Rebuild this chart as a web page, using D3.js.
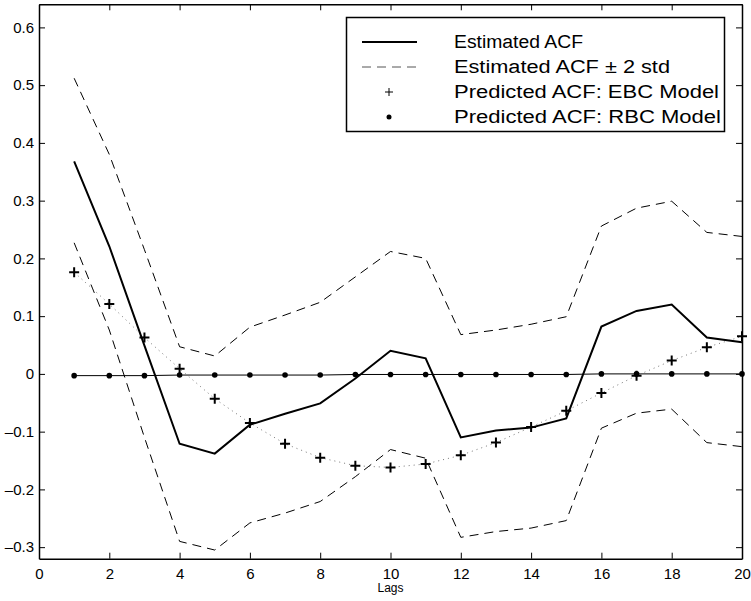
<!DOCTYPE html>
<html>
<head>
<meta charset="utf-8">
<script src="https://cdn.jsdelivr.net/npm/d3@7"></script>
<style>
  body { margin: 0; background: #fff; }
  text { font-family: "Liberation Sans", Arial, Helvetica, sans-serif; }
</style>
</head>
<body>
<div id="chart"></div>
<script>
// lags 1..20
const lags = d3.range(1, 21);
const estAcf = [0.368, 0.221, 0.049, -0.121, -0.138, -0.088, -0.069, -0.051, -0.008, 0.040,
                0.027, -0.110, -0.098, -0.093, -0.077, 0.082, 0.109, 0.120, 0.063, 0.055];
const upperBand = [0.512, 0.380, 0.215, 0.047, 0.031, 0.081, 0.102, 0.124, 0.168, 0.212,
                   0.200, 0.068, 0.076, 0.086, 0.099, 0.256, 0.287, 0.299, 0.245, 0.238];
const lowerBand = [0.227, 0.076, -0.110, -0.290, -0.305, -0.258, -0.241, -0.221, -0.178, -0.131,
                   -0.146, -0.283, -0.273, -0.267, -0.254, -0.094, -0.068, -0.061, -0.119, -0.126];
const ebcAcf = [0.176, 0.121, 0.063, 0.009, -0.043, -0.085, -0.121, -0.145, -0.159, -0.162,
                -0.156, -0.141, -0.119, -0.092, -0.064, -0.033, -0.003, 0.023, 0.046, 0.065];
const rbcAcf = [-0.003, -0.003, -0.003, -0.002, -0.002, -0.002, -0.002, -0.002, -0.001, -0.001,
                -0.001, -0.001, -0.001, -0.001, -0.001, 0, 0, 0, 0, 0];
const xTicks = [0, 2, 4, 6, 8, 10, 12, 14, 16, 18, 20];
const yTicks = [-0.3, -0.2, -0.1, 0, 0.1, 0.2, 0.3, 0.4, 0.5, 0.6];
const legendLabels = ["Estimated ACF", "Estimated ACF \u00b1 2 std",
                      "Predicted ACF: EBC Model", "Predicted ACF: RBC Model"];
const legendWidths = [129, 216, 265, 267];

const width = 751, height = 601;
const x = d3.scaleLinear().domain([0, 20]).range([39, 742]);
const y = d3.scaleLinear().domain([-0.32, 0.64]).range([558.7, 4.3]);

const svg = d3.select('#chart').append('svg')
  .attr('width', width)
  .attr('height', height);

const line = vals => d3.line()
  .x((d, i) => x(lags[i]))
  .y(d => y(d))(vals);

// axes (inward ticks, mirrored on top/right)
const fmt = d => (d < 0 ? '\u2013' + Math.abs(d) : String(d));
svg.append('g')
  .attr('transform', 'translate(0,' + y.range()[0] + ')')
  .call(d3.axisBottom(x).tickValues(xTicks).tickSizeInner(-6).tickSizeOuter(0).tickPadding(10))
  .call(g => g.selectAll('text').attr('font-size', 15).attr('fill', '#000'));
svg.append('g')
  .attr('transform', 'translate(0,' + y.range()[1] + ')')
  .call(d3.axisTop(x).tickValues(xTicks).tickSizeInner(-6).tickSizeOuter(0).tickFormat(''));
svg.append('g')
  .attr('transform', 'translate(' + x.range()[0] + ',0)')
  .call(d3.axisLeft(y).tickValues(yTicks).tickFormat(fmt).tickSizeInner(-6).tickSizeOuter(0).tickPadding(5))
  .call(g => g.selectAll('text').attr('font-size', 15).attr('fill', '#000'));
svg.append('g')
  .attr('transform', 'translate(' + x.range()[1] + ',0)')
  .call(d3.axisRight(y).tickValues(yTicks).tickSizeInner(-6).tickSizeOuter(0).tickFormat(''));
svg.selectAll('.domain').attr('stroke', '#000').attr('stroke-width', 1.5);
svg.selectAll('.tick line').attr('stroke', '#000');

svg.append('text')
  .attr('x', x(10)).attr('y', 592)
  .attr('text-anchor', 'middle')
  .attr('font-size', 12)
  .text('Lags');

// bands
[upperBand, lowerBand].forEach(b => {
  svg.append('path')
    .attr('d', line(b))
    .attr('fill', 'none').attr('stroke', '#000')
    .attr('stroke-width', 1).attr('stroke-dasharray', '9,6');
});

// RBC
svg.append('path')
  .attr('d', line(rbcAcf))
  .attr('fill', 'none').attr('stroke', '#000').attr('stroke-width', 1);
svg.append('g').selectAll('circle')
  .data(rbcAcf).join('circle')
  .attr('cx', (d, i) => x(lags[i])).attr('cy', d => y(d))
  .attr('r', 2.8).attr('fill', '#000');

// EBC
svg.append('path')
  .attr('d', line(ebcAcf))
  .attr('fill', 'none').attr('stroke', '#777')
  .attr('stroke-width', 1).attr('stroke-dasharray', '1,4');
svg.append('g').selectAll('path')
  .data(ebcAcf).join('path')
  .attr('d', (d, i) => {
    const cx = x(lags[i]), cy = y(d);
    return 'M' + (cx - 5) + ',' + cy + 'H' + (cx + 5) + 'M' + cx + ',' + (cy - 5) + 'V' + (cy + 5);
  })
  .attr('stroke', '#000').attr('stroke-width', 2);

// estimated ACF
svg.append('path')
  .attr('d', line(estAcf))
  .attr('fill', 'none').attr('stroke', '#000').attr('stroke-width', 2);

// legend
const legend = svg.append('g');
legend.append('rect')
  .attr('x', 346.5).attr('y', 17.5).attr('width', 378).attr('height', 114)
  .attr('fill', '#fff').attr('stroke', '#000').attr('stroke-width', 1.5);
const rowY = i => 42 + i * 25;
legend.selectAll('text')
  .data(legendLabels).join('text')
  .attr('x', 454).attr('y', (d, i) => rowY(i) + 6)
  .attr('font-size', 18)
  .attr('textLength', (d, i) => legendWidths[i])
  .attr('lengthAdjust', 'spacingAndGlyphs')
  .text(d => d);
legend.append('line')
  .attr('x1', 362).attr('x2', 417).attr('y1', rowY(0)).attr('y2', rowY(0))
  .attr('stroke', '#000').attr('stroke-width', 2);
legend.append('line')
  .attr('x1', 362).attr('x2', 417).attr('y1', rowY(1)).attr('y2', rowY(1))
  .attr('stroke', '#555').attr('stroke-width', 1).attr('stroke-dasharray', '9,6');
legend.append('path')
  .attr('d', 'M385,' + rowY(2) + 'H393M389,' + (rowY(2) - 4) + 'V' + (rowY(2) + 4))
  .attr('stroke', '#000').attr('stroke-width', 1);
legend.append('circle')
  .attr('cx', 389).attr('cy', rowY(3)).attr('r', 2.5).attr('fill', '#000');
</script>
</body>
</html>
